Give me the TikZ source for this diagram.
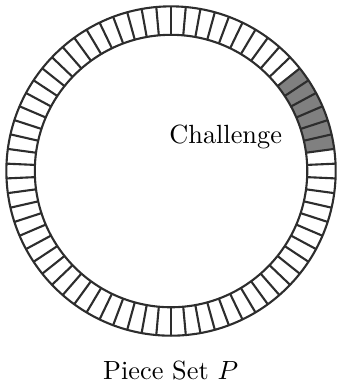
\documentclass[tikz,border=0pt]{standalone}
\usepackage{amsmath,amssymb}
\definecolor{piecegray}{RGB}{128,128,128}
\definecolor{ringline}{RGB}{45,45,45}

\begin{document}
\begin{tikzpicture}[line width=0.8pt]
		\useasboundingbox (-2.285,-2.832) rectangle (2.218,2.285);
		\def\rin{1.82}
		\def\rout{2.2}
		\pgfmathsetmacro\ang{360/70}
		\coordinate (c) at (0,0);
		
		%Challenge pieces
		\fill[piecegray]
		({1.5*\ang}:\rin) arc[start angle={1.5*\ang}, end angle={7.5*\ang}, radius=\rin]
		-- ({7.5*\ang}:\rout) arc[start angle={7.5*\ang}, end angle={1.5*\ang}, radius=\rout]
		-- cycle;
		
		%Ring
		\draw[ringline] (c) circle (\rout);
		\draw[ringline] (c) circle (\rin);
		\foreach \k in {0,...,69}
		\draw[ringline] ({(\k+0.5)*\ang}:\rin) -- ({(\k+0.5)*\ang}:\rout);
		
		%Annotations
		\node[anchor=base east, inner sep=0pt] (challenge) at (1.496,0.37) {Challenge};
		\node[anchor=base, inner sep=0pt] (pieceset) at (-0.005,-2.79) {Piece Set $P$};
		
	\end{tikzpicture}
\end{document}
